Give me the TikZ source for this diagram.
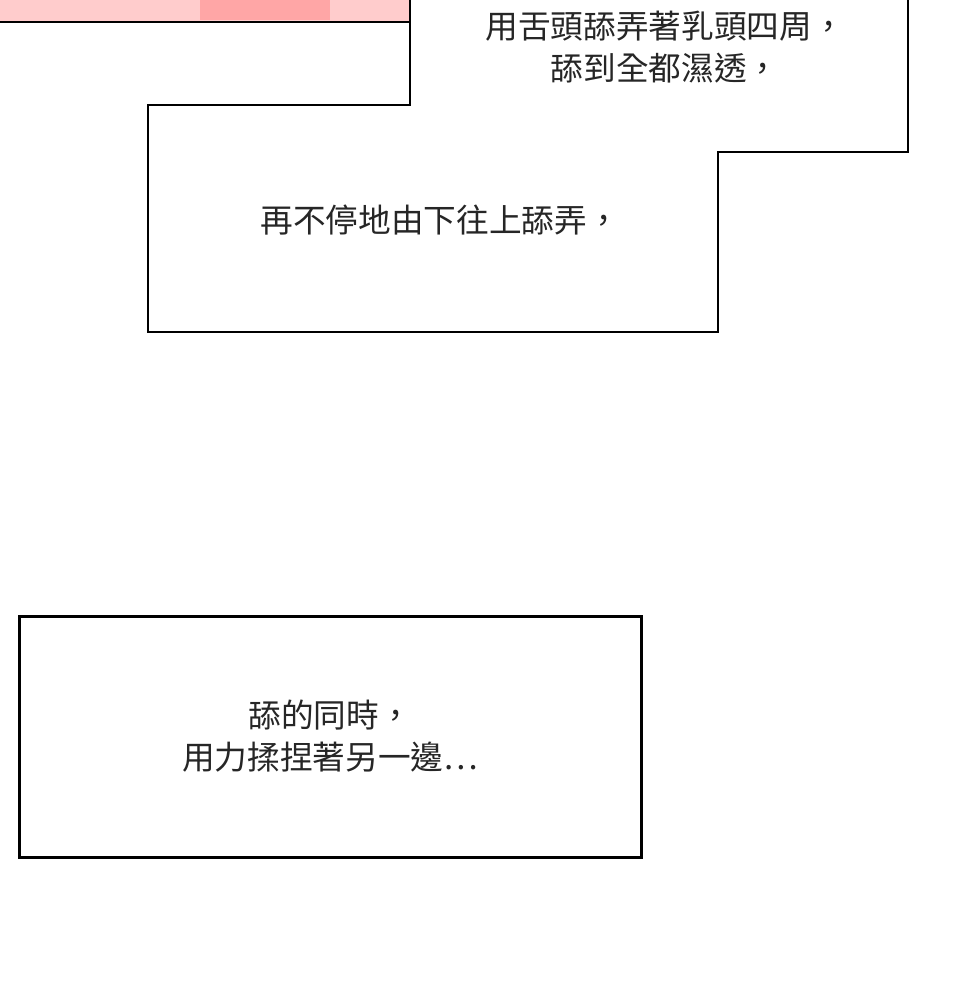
\documentclass[tikz,border=0pt]{standalone}
\usepackage{fontspec}
\newfontfamily\cjk{Noto Sans CJK TC}
\begin{document}
\begin{tikzpicture}[x=0.75pt,y=-0.75pt,
  box/.style={draw=black,line width=2pt,fill=white},
  txt/.style={font=\cjk\fontsize{24.5}{32}\selectfont,align=center,text=black!85}]
\useasboundingbox (0,0) rectangle (960,1000);
\fill[white] (0,0) rectangle (960,1000);
% top-left panel remnant
\fill[red!20!white] (0,0) rectangle (410,22);
\fill[red!35!white] (200,0) rectangle (330,20);
\draw[line width=2pt] (0,22) -- (410,22) -- (410,0);
% combined caption box
\draw[box] (410,-2) -- (908,-2) -- (908,152) -- (718,152) -- (718,332) -- (148,332) -- (148,105) -- (410,105) -- cycle;
\node[txt] (t1) at (665,47) {用舌頭舔弄著乳頭四周，\\舔到全都濕透，};
\node[txt] (t2) at (440,220) {再不停地由下往上舔弄，};
% lower box
\node[box,minimum width=622*0.75pt,minimum height=241*0.75pt,anchor=north west] (b2) at (18,615) {};
\node[txt] (t3) at (330,736) {舔的同時，\\用力揉捏著另一邊…};
\end{tikzpicture}
\end{document}
